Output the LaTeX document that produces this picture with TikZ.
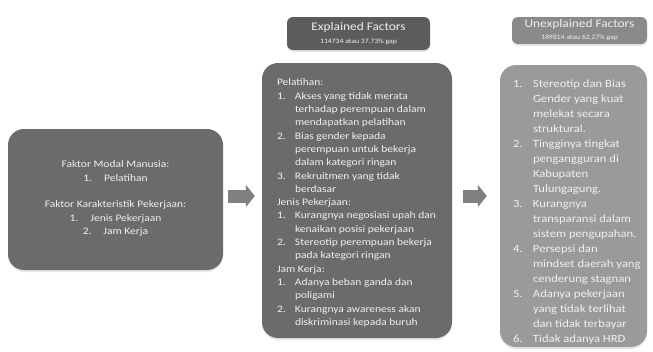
\documentclass[tikz,border=0pt]{standalone}
\usepackage{fontspec}
\newfontfamily\boxfont[FakeStretch=1.15]{Carlito}
\usepackage{xcolor}
\definecolor{colorBoxDark}{HTML}{6B6B6B}
\definecolor{colorTitleDark}{HTML}{5C5C5C}
\definecolor{colorBoxLight}{HTML}{9A9A9A}
\definecolor{colorTitleLight}{HTML}{8A8A8A}
\colorlet{colorArrow}{black!50}
\colorlet{colorText}{white!94!black}
\usetikzlibrary{arrows.meta, positioning, shadows}
\newlength{\numwidth}
\newcommand{\numitem}[2]{\makebox[\numwidth][l]{#1}#2}
\newcommand{\numcont}[1]{\hspace*{\numwidth}#1}
\newcommand{\leftfont}{\boxfont\fontsize{10}{13.5}\selectfont\setlength{\numwidth}{18pt}}
\newcommand{\midfont}{\boxfont\fontsize{10}{13.3}\selectfont\setlength{\numwidth}{18pt}}
\newcommand{\rightfont}{\boxfont\fontsize{11}{15}\selectfont\setlength{\numwidth}{20pt}}
\tikzset{
  factorbox/.style={rectangle, rounded corners=16pt, inner sep=0pt, drop shadow={opacity=0.18, shadow xshift=0pt, shadow yshift=-2pt}},
  titlebox/.style={rectangle, rounded corners=6pt, inner sep=0pt, align=center, text=colorText, drop shadow={opacity=0.18, shadow xshift=0pt, shadow yshift=-2pt}},
  boxtext/.style={inner sep=0pt, text=colorText},
  blockarrow/.style={draw=colorArrow, line width=13pt, line cap=butt, -{Triangle[width=22pt,length=9pt]}}
}

\begin{document}
\begin{tikzpicture}[x=1pt, y=-1pt]
\useasboundingbox (0,0) rectangle (653,351);
\node[factorbox, fill=colorBoxDark, minimum width=215pt, minimum height=141pt] (faktor) at (115.5,199.5) {};
\node[factorbox, fill=colorBoxDark, minimum width=190pt, minimum height=275pt] (explained) at (357,200.5) {};
\node[factorbox, fill=colorBoxLight, minimum width=147pt, minimum height=282pt] (unexplained) at (573.5,206) {};
\node[titlebox, fill=colorTitleDark, minimum width=143pt, minimum height=33pt] (expTitle) at (358.5,33.5) {{\boxfont\fontsize{11.6}{12}\selectfont Explained Factors}\\[1pt]{\boxfont\fontsize{6.7}{7}\selectfont 114734 atau 37,73\% gap}};
\node[titlebox, fill=colorTitleLight, minimum width=135pt, minimum height=27pt] (unexpTitle) at (579.5,30.5) {{\boxfont\fontsize{11.6}{12}\selectfont Unexplained Factors}\\[0pt]{\boxfont\fontsize{6.7}{7}\selectfont 189814 atau 62,27\% gap}};
\node[boxtext, align=center, font=\leftfont, below=32pt of faktor.north] (faktorText) {Faktor Modal Manusia:\\
1.\hspace{12pt}Pelatihan\\[13pt]
Faktor Karakteristik Pekerjaan:\\
1.\hspace{12pt}Jenis Pekerjaan\\
2.\hspace{12pt}Jam Kerja};
\node[boxtext, align=left, font=\midfont, below right=16pt and 15pt of explained.north west] (expText) {Pelatihan:\\
\numitem{1.}{Akses yang tidak merata}\\
\numcont{terhadap perempuan dalam}\\
\numcont{mendapatkan pelatihan}\\
\numitem{2.}{Bias gender kepada}\\
\numcont{perempuan untuk bekerja}\\
\numcont{dalam kategori ringan}\\
\numitem{3.}{Rekruitmen yang tidak}\\
\numcont{berdasar}\\
Jenis Pekerjaan:\\
\numitem{1.}{Kurangnya negosiasi upah dan}\\
\numcont{kenaikan posisi pekerjaan}\\
\numitem{2.}{Stereotip perempuan bekerja}\\
\numcont{pada kategori ringan}\\
Jam Kerja:\\
\numitem{1.}{Adanya beban ganda dan}\\
\numcont{poligami}\\
\numitem{2.}{Kurangnya awareness akan}\\
\numcont{diskriminasi kepada buruh}};
\node[boxtext, align=left, font=\rightfont, below right=15pt and 13pt of unexplained.north west] (unexpText) {\numitem{1.}{Stereotip dan Bias}\\
\numcont{Gender yang kuat}\\
\numcont{melekat secara}\\
\numcont{struktural.}\\
\numitem{2.}{Tingginya tingkat}\\
\numcont{pengangguran di}\\
\numcont{Kabupaten}\\
\numcont{Tulungagung.}\\
\numitem{3.}{Kurangnya}\\
\numcont{transparansi dalam}\\
\numcont{sistem pengupahan.}\\
\numitem{4.}{Persepsi dan}\\
\numcont{mindset daerah yang}\\
\numcont{cenderung stagnan}\\
\numitem{5.}{Adanya pekerjaan}\\
\numcont{yang tidak terlihat}\\
\numcont{dan tidak terbayar}\\
\numitem{6.}{Tidak adanya HRD}};
\draw[blockarrow, shorten <=5pt, shorten >=7pt] ([yshift=3.5pt]faktor.east) -- ([yshift=3.5pt]faktor.east -| explained.west);
\draw[blockarrow, shorten <=11pt, shorten >=13pt] ([yshift=4.5pt]explained.east) -- ([yshift=4.5pt]explained.east -| unexplained.west);
\end{tikzpicture}
\end{document}
